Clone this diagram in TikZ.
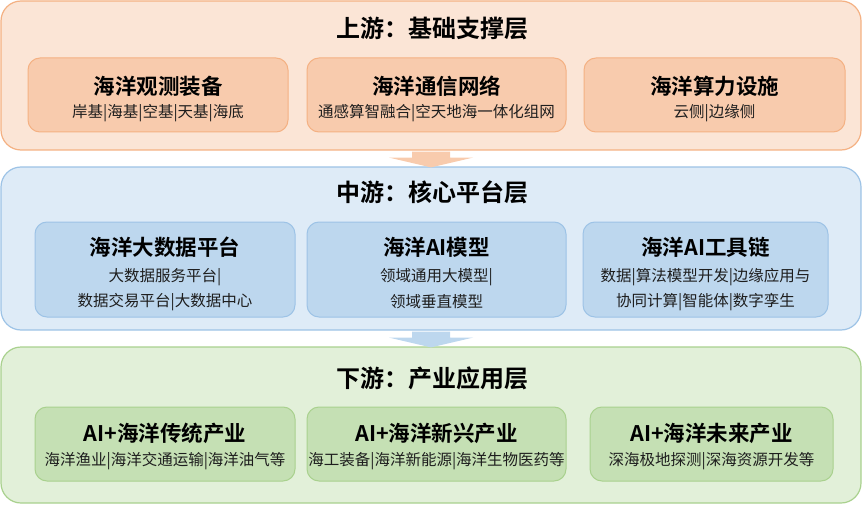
\documentclass[tikz,border=0pt]{standalone}
\usepackage{fontspec}
\setmainfont{Noto Sans CJK SC}[BoldFont={Noto Sans CJK SC Bold}]
\usetikzlibrary{calc}
\definecolor{orOut}{HTML}{FBE5D6}
\definecolor{orLine}{HTML}{F4B183}
\definecolor{orIn}{HTML}{F8CBAD}
\definecolor{blOut}{HTML}{DEEBF7}
\definecolor{blLine}{HTML}{9DC3E6}
\definecolor{blIn}{HTML}{BDD7EE}
\definecolor{grOut}{HTML}{E2F0D9}
\definecolor{grLine}{HTML}{A9D18E}
\definecolor{grIn}{HTML}{C5E0B4}
\definecolor{subtxt}{HTML}{1E1E1E}
\tikzset{
  layerbox/.style={rectangle, rounded corners=20pt, line width=1.2pt, inner sep=0pt},
  innerbox/.style={rectangle, rounded corners=12pt, line width=1pt, inner sep=0pt},
  layertitle/.style={font=\bfseries\fontsize{24}{28}\selectfont, text=black, inner sep=0pt},
  boxtitle/.style={font=\bfseries\fontsize{21.5}{25}\selectfont, text=black, inner sep=0pt},
  boxsub/.style={font=\fontsize{15.5}{19}\selectfont, text=subtxt, inner sep=0pt},
}
\newcommand{\lbox}[6]{% name, x1,y1,x2,y2, style
  \node[#6, minimum width={(#4-#2)*1pt}, minimum height={(#5-#3)*1pt}] (#1) at ({(#2+#4)/2},{(#3+#5)/2}) {};}
\begin{document}
\begin{tikzpicture}[x=1pt,y=-1pt]
\useasboundingbox (0,0) rectangle (864,505);
% layers
\lbox{top}{1}{1}{861}{150}{layerbox, fill=orOut, draw=orLine}
\lbox{mid}{1}{167}{861}{330}{layerbox, fill=blOut, draw=blLine}
\lbox{bot}{1}{347}{861}{503}{layerbox, fill=grOut, draw=grLine}
\node[layertitle] (tTitle) at (432,28) {上游：基础支撑层};
\node[layertitle] (mTitle) at (432,192) {中游：核心平台层};
\node[layertitle] (bTitle) at (432,378) {下游：产业应用层};
% top inner boxes
\lbox{t1}{28}{58}{288}{132}{innerbox, fill=orIn, draw=orLine}
\lbox{t2}{307}{58}{566}{132}{innerbox, fill=orIn, draw=orLine}
\lbox{t3}{584}{58}{845}{132}{innerbox, fill=orIn, draw=orLine}
\node[boxtitle] (t1a) at (158,86) {海洋观测装备};
\node[boxsub] (t1b) at (158,113) {岸基|海基|空基|天基|海底};
\node[boxtitle] (t2a) at (436.5,86) {海洋通信网络};
\node[boxsub] (t2b) at (436.5,113) {通感算智融合|空天地海一体化组网};
\node[boxtitle] (t3a) at (714.5,86) {海洋算力设施};
\node[boxsub] (t3b) at (714.5,113) {云侧|边缘侧};
% middle inner boxes
\lbox{m1}{35}{222}{295}{317}{innerbox, fill=blIn, draw=blLine}
\lbox{m2}{307}{222}{566}{317}{innerbox, fill=blIn, draw=blLine}
\lbox{m3}{583}{222}{828}{317}{innerbox, fill=blIn, draw=blLine}
\node[boxtitle] (m1a) at (165,247) {海洋大数据平台};
\node[boxsub] (m1b) at (165,277) {大数据服务平台|};
\node[boxsub] (m1c) at (165,302) {数据交易平台|大数据中心};
\node[boxtitle] (m2a) at (436.5,247) {海洋AI模型};
\node[boxsub] (m2b) at (436.5,277) {领域通用大模型|};
\node[boxsub] (m2c) at (436.5,302) {领域垂直模型};
\node[boxtitle] (m3a) at (705.5,247) {海洋AI工具链};
\node[boxsub] (m3b) at (705.5,277) {数据|算法模型开发|边缘应用与};
\node[boxsub] (m3c) at (705.5,302) {协同计算|智能体|数字孪生};
% bottom inner boxes
\lbox{b1}{35}{407}{295}{481}{innerbox, fill=grIn, draw=grLine}
\lbox{b2}{307}{407}{566}{481}{innerbox, fill=grIn, draw=grLine}
\lbox{b3}{590}{407}{833}{481}{innerbox, fill=grIn, draw=grLine}
\node[boxtitle] (b1a) at (165,433) {AI+海洋传统产业};
\node[boxsub] (b1b) at (165,461) {海洋渔业|海洋交通运输|海洋油气等};
\node[boxtitle] (b2a) at (436.5,433) {AI+海洋新兴产业};
\node[boxsub] (b2b) at (436.5,461) {海工装备|海洋新能源|海洋生物医药等};
\node[boxtitle] (b3a) at (711.5,433) {AI+海洋未来产业};
\node[boxsub] (b3b) at (711.5,461) {深海极地探测|深海资源开发等};
% arrows between layers
\fill[orIn] ($(top.south)+(-19,1)$) -- ($(top.south)+(19,1)$) -- ($(top.south)+(19,7)$)
  -- ($(top.south)+(42,7)$) -- ($(mid.north)+(0,1)$) -- ($(top.south)+(-42,7)$)
  -- ($(top.south)+(-19,7)$) -- cycle;
\fill[blIn] ($(mid.south)+(-19,1)$) -- ($(mid.south)+(19,1)$) -- ($(mid.south)+(19,7)$)
  -- ($(mid.south)+(42,7)$) -- ($(bot.north)+(0,1)$) -- ($(mid.south)+(-42,7)$)
  -- ($(mid.south)+(-19,7)$) -- cycle;
\end{tikzpicture}
\end{document}
